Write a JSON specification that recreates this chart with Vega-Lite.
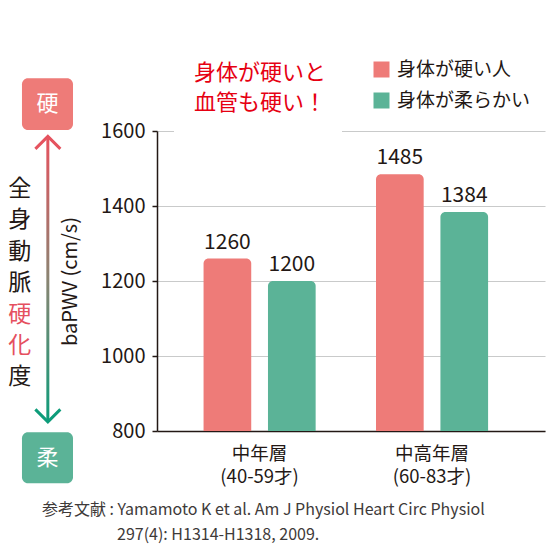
{
  "$schema": "https://vega.github.io/schema/vega-lite/v6.json",
  "width": 388,
  "height": 300,
  "autosize": {"type": "none"},
  "padding": {"left": 157, "top": 131, "right": 5, "bottom": 120},
  "background": "white",
  "config": {
    "font": "Noto Sans CJK JP",
    "view": {"stroke": null}
  },
  "datasets": {
    "pwv": [
      {"group": "中年層 (40-59才)", "flex": "身体が硬い人", "baPWV": 1260},
      {"group": "中年層 (40-59才)", "flex": "身体が柔らかい", "baPWV": 1200},
      {"group": "中高年層 (60-83才)", "flex": "身体が硬い人", "baPWV": 1485},
      {"group": "中高年層 (60-83才)", "flex": "身体が柔らかい", "baPWV": 1384}
    ],
    "notes": [
      {"kind": "box", "label": "硬", "x0": -0.348, "x1": -0.2165, "y0": 1603, "y1": 1741},
      {"kind": "box", "label": "柔", "x0": -0.348, "x1": -0.2165, "y0": 661, "y1": 797},
      {"kind": "boxtext", "label": "硬", "x0": -0.282, "y0": 1672},
      {"kind": "boxtext", "label": "柔", "x0": -0.282, "y0": 729},
      {"kind": "shaft", "x0": -0.2852, "x1": -0.2775, "y0": 829, "y1": 1581},
      {"kind": "head", "dir": "up", "x0": -0.2813, "y0": 1569},
      {"kind": "head", "dir": "down", "x0": -0.2813, "y0": 841},
      {"kind": "vchar", "label": "全", "accent": false, "x0": -0.354, "y0": 1445},
      {"kind": "vchar", "label": "身", "accent": false, "x0": -0.354, "y0": 1362},
      {"kind": "vchar", "label": "動", "accent": false, "x0": -0.354, "y0": 1278},
      {"kind": "vchar", "label": "脈", "accent": false, "x0": -0.354, "y0": 1194},
      {"kind": "vchar", "label": "硬", "accent": true, "x0": -0.354, "y0": 1110},
      {"kind": "vchar", "label": "化", "accent": true, "x0": -0.354, "y0": 1027},
      {"kind": "vchar", "label": "度", "accent": false, "x0": -0.354, "y0": 943},
      {"kind": "gap", "x0": 0.0438, "x1": 0.4768, "y0": 1593, "y1": 1607},
      {"kind": "claim", "label": "身体が硬いと", "x0": 0.2655, "y0": 1755},
      {"kind": "claim", "label": "血管も硬い！", "x0": 0.2655, "y0": 1675},
      {"kind": "ref", "label": "参考文献 : Yamamoto K et al. Am J Physiol Heart Circ Physiol", "x0": -0.2964, "y0": 589},
      {"kind": "ref", "label": "297(4): H1314-H1318, 2009.", "x0": -0.1031, "y0": 523}
    ]
  },
  "layer": [
    {
      "data": {"name": "pwv"},
      "encoding": {
        "x": {
          "field": "group",
          "type": "nominal",
          "sort": null,
          "scale": {"paddingInner": 0.35, "paddingOuter": 0.3, "align": 0.45},
          "axis": {
            "title": null,
            "ticks": false,
            "domainColor": "#231815",
            "domainWidth": 1.5,
            "labelAngle": 0,
            "labelFontSize": 18.5,
            "labelColor": "#231815",
            "labelPadding": 13,
            "labelBaseline": "top",
            "labelLineHeight": 23,
            "labelExpr": "split(datum.label, ' ')"
          }
        },
        "xOffset": {
          "field": "flex",
          "type": "nominal",
          "sort": ["身体が硬い人", "身体が柔らかい"],
          "scale": {"paddingInner": 0.26, "paddingOuter": 0}
        },
        "y": {
          "field": "baPWV",
          "type": "quantitative",
          "scale": {"domain": [800, 1600], "nice": false, "zero": false},
          "title": "baPWV (cm/s)",
          "axis": {
            "values": [800, 1000, 1200, 1400, 1600],
            "format": "d",
            "tickSize": 5,
            "tickWidth": 1.5,
            "tickColor": "#231815",
            "domainColor": "#231815",
            "domainWidth": 1.5,
            "labelFontSize": 20,
            "labelColor": "#231815",
            "labelPadding": 7,
            "grid": true,
            "gridColor": "#c9caca",
            "gridWidth": 1.2,
            "titleFontSize": 20,
            "titleFontWeight": "normal",
            "titleColor": "#231815",
            "titlePadding": 20
          }
        }
      },
      "layer": [
        {
          "mark": {"type": "bar", "cornerRadiusTopLeft": 5, "cornerRadiusTopRight": 5},
          "encoding": {
            "y2": {"datum": 800},
            "color": {
              "field": "flex",
              "type": "nominal",
              "scale": {"domain": ["身体が硬い人", "身体が柔らかい"], "range": ["#EE7B78", "#5BB397"]},
              "legend": {
                "title": null,
                "orient": "none",
                "legendX": 215,
                "legendY": -71,
                "symbolType": "square",
                "symbolSize": 256,
                "symbolStrokeWidth": 0,
                "labelFontSize": 19,
                "labelColor": "#231815",
                "labelOffset": 6,
                "rowPadding": 11
              }
            }
          }
        },
        {
          "mark": {"type": "text", "dy": -10, "baseline": "alphabetic", "fontSize": 21, "color": "#231815"},
          "encoding": {
            "text": {"field": "baPWV", "type": "quantitative"}
          }
        }
      ]
    },
    {
      "data": {"name": "notes"},
      "encoding": {
        "x": {"field": "x0", "type": "quantitative", "scale": {"domain": [0, 1], "nice": false, "zero": false}, "axis": null},
        "y": {"field": "y0", "type": "quantitative", "scale": {"domain": [800, 1600], "nice": false, "zero": false}, "title": "baPWV (cm/s)"}
      },
      "layer": [
        {
          "transform": [{"filter": "datum.kind === 'gap'"}],
          "mark": {"type": "rect", "fill": "white"},
          "encoding": {
            "x2": {"field": "x1"},
            "y2": {"field": "y1"}
          }
        },
        {
          "transform": [{"filter": "datum.kind === 'box'"}],
          "mark": {"type": "rect", "cornerRadius": 6},
          "encoding": {
            "x2": {"field": "x1"},
            "y2": {"field": "y1"},
            "fill": {"condition": {"test": "datum.label === '硬'", "value": "#EE7B78"}, "value": "#5BB397"}
          }
        },
        {
          "transform": [{"filter": "datum.kind === 'boxtext'"}],
          "mark": {"type": "text", "fontSize": 22, "color": "white", "baseline": "middle", "align": "center"},
          "encoding": {"text": {"field": "label"}}
        },
        {
          "transform": [{"filter": "datum.kind === 'shaft'"}],
          "mark": {
            "type": "rect",
            "fill": {
              "gradient": "linear",
              "x1": 0, "y1": 0, "x2": 0, "y2": 1,
              "stops": [
                {"offset": 0, "color": "#E5535F"},
                {"offset": 0.5, "color": "#8A8472"},
                {"offset": 1, "color": "#0E9C7A"}
              ]
            }
          },
          "encoding": {
            "x2": {"field": "x1"},
            "y2": {"field": "y1"}
          }
        },
        {
          "transform": [{"filter": "datum.kind === 'head'"}],
          "mark": {"type": "point", "filled": false, "size": 625, "strokeWidth": 3, "strokeJoin": "miter", "opacity": 1},
          "encoding": {
            "shape": {"condition": {"test": "datum.dir === 'up'", "value": "M-1,0.5L0,-0.5L1,0.5"}, "value": "M-1,-0.5L0,0.5L1,-0.5"},
            "stroke": {"condition": {"test": "datum.dir === 'up'", "value": "#E5535F"}, "value": "#0E9C7A"}
          }
        },
        {
          "transform": [{"filter": "datum.kind === 'vchar'"}],
          "mark": {"type": "text", "fontSize": 23, "baseline": "middle", "align": "center"},
          "encoding": {
            "text": {"field": "label"},
            "color": {"condition": {"test": "datum.accent", "value": "#E5505F"}, "value": "#231815"}
          }
        },
        {
          "transform": [{"filter": "datum.kind === 'claim'"}],
          "mark": {"type": "text", "fontSize": 22, "color": "#E60012", "baseline": "middle", "align": "center"},
          "encoding": {"text": {"field": "label"}}
        },
        {
          "transform": [{"filter": "datum.kind === 'ref'"}],
          "mark": {"type": "text", "fontSize": 16, "color": "#3E3A39", "baseline": "middle", "align": "left"},
          "encoding": {"text": {"field": "label"}}
        }
      ]
    }
  ],
  "resolve": {"scale": {"x": "independent"}}
}
